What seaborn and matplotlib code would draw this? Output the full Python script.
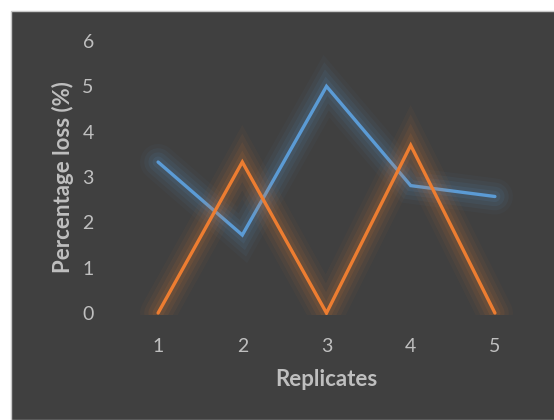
import matplotlib
matplotlib.use("Agg")
import matplotlib.pyplot as plt
import matplotlib.patheffects as pe
from matplotlib.patches import Rectangle
import pandas as pd
import seaborn as sns

# Percentage loss per replicate for the two series
replicates = [1, 2, 3, 4, 5]
series_a = [3.33, 1.72, 5.0, 2.81, 2.57]
series_b = [0.0, 3.33, 0.0, 3.7, 0.0]
y_ticks = [0, 1, 2, 3, 4, 5, 6]

BG = "#404040"
TEXT = "#BFBFBF"
BLUE = "#5B9BD5"
ORANGE = "#ED7D31"

sns.set_theme(style="dark")
plt.rcParams["font.family"] = ["Lato", "DejaVu Sans"]

df = pd.DataFrame({
    "Replicates": replicates * 2,
    "loss": series_a + series_b,
    "series": ["A"] * 5 + ["B"] * 5,
})

fig = plt.figure(figsize=(5.54, 4.2), dpi=100, facecolor="white")
# dark chart area with a thin light border
fig.patches.append(Rectangle((11 / 554, 0), 1, 1 - 11 / 420, transform=fig.transFigure,
                             facecolor=BG, edgecolor="#C8C8C8", linewidth=1.0, zorder=-10))

ax = fig.add_axes([116 / 554, 107 / 420, 421 / 554, 272 / 420])
ax.set_facecolor(BG)
ax.patch.set_alpha(0.0)

sns.lineplot(data=df, x="Replicates", y="loss", hue="series",
             palette=[BLUE, ORANGE], linewidth=2.4, legend=False, ax=ax)

# clip region: just a little below the zero line, open on the other sides
clip = Rectangle((-0.2, -0.008), 1.4, 1.3, transform=ax.transAxes)

# soft glow around each line
for line in ax.get_lines():
    c = line.get_color()
    line.set_solid_capstyle("round")
    line.set_solid_joinstyle("miter")
    line.set_clip_path(clip)
    line.set_path_effects([
        pe.Stroke(linewidth=26, foreground=c, alpha=0.04),
        pe.Stroke(linewidth=20, foreground=c, alpha=0.06),
        pe.Stroke(linewidth=14, foreground=c, alpha=0.08),
        pe.Stroke(linewidth=8, foreground=c, alpha=0.10),
        pe.Normal(),
    ])

ax.set_xlim(0.5, 5.5)
ax.set_ylim(0, 6)
ax.set_xticks(replicates)
ax.set_yticks(y_ticks)
ax.tick_params(axis="both", colors=TEXT, labelsize=14, length=0)
ax.tick_params(axis="y", pad=16)
ax.tick_params(axis="x", pad=18)
for s in ax.spines.values():
    s.set_visible(False)
ax.grid(False)

ax.set_xlabel("Replicates", color=TEXT, fontsize=16, fontweight="bold", labelpad=10)
ax.set_ylabel("Percentage loss (%)", color=TEXT, fontsize=16, fontweight="bold", labelpad=6)

fig.savefig("out.png", dpi=100, facecolor="white")
